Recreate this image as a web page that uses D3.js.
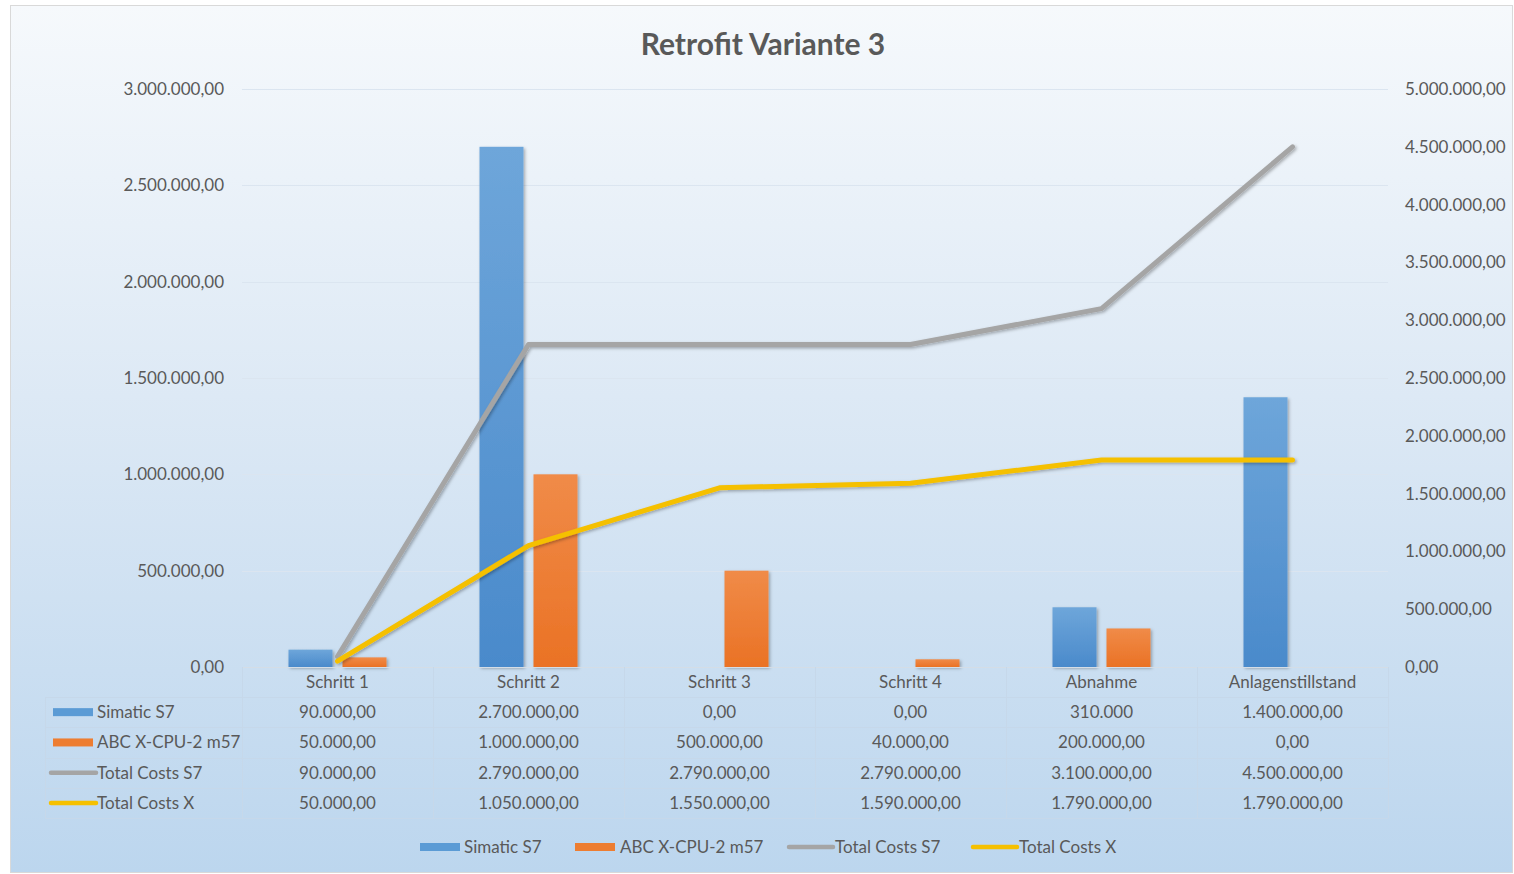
<!DOCTYPE html>
<html>
<head>
<meta charset="utf-8">
<script src="https://cdn.jsdelivr.net/npm/d3@7"></script>
<style>
  html, body { margin: 0; padding: 0; background: #ffffff; }
  svg { display: block; font-family: Lato, "Open Sans", sans-serif; }
</style>
</head>
<body>
<svg id="chart" width="1514" height="874"></svg>
<script>
// ---- DATA ----
const categories = ["Schritt 1", "Schritt 2", "Schritt 3", "Schritt 4", "Abnahme", "Anlagenstillstand"];
const simaticS7 = [90000, 2700000, 0, 0, 310000, 1400000];
const abcCpu = [50000, 1000000, 500000, 40000, 200000, 0];
const totalCostsS7 = [90000, 2790000, 2790000, 2790000, 3100000, 4500000];
const totalCostsX = [50000, 1050000, 1550000, 1590000, 1790000, 1790000];
const seriesNames = ["Simatic S7", "ABC X-CPU-2 m57", "Total Costs S7", "Total Costs X"];
const leftTicks = [0, 500000, 1000000, 1500000, 2000000, 2500000, 3000000];
const rightTicks = [0, 500000, 1000000, 1500000, 2000000, 2500000, 3000000, 3500000, 4000000, 4500000, 5000000];
// table cell texts as displayed (one cell is shown without decimals)
const tableSimatic = ["90.000,00", "2.700.000,00", "0,00", "0,00", "310.000", "1.400.000,00"];
const tableAbc = ["50.000,00", "1.000.000,00", "500.000,00", "40.000,00", "200.000,00", "0,00"];
const tableTotalS7 = ["90.000,00", "2.790.000,00", "2.790.000,00", "2.790.000,00", "3.100.000,00", "4.500.000,00"];
const tableTotalX = ["50.000,00", "1.050.000,00", "1.550.000,00", "1.590.000,00", "1.790.000,00", "1.790.000,00"];

// ---- LAYOUT ----
const W = 1514, H = 874;
const plot = { left: 242, right: 1388, top: 89, bottom: 667 };
const colors = { blue: "#5b9bd5", orange: "#ed7d31", gray: "#a5a5a5", gold: "#f5c000", text: "#595959" };
const FS = 17;

const svg = d3.select("#chart");
const defs = svg.append("defs");

const bg = defs.append("linearGradient").attr("id", "bg").attr("x1", 0).attr("y1", 0).attr("x2", 0).attr("y2", 1);
bg.append("stop").attr("offset", "0%").attr("stop-color", "#f6f9fc");
bg.append("stop").attr("offset", "45%").attr("stop-color", "#dde9f5");
bg.append("stop").attr("offset", "100%").attr("stop-color", "#bcd6ee");

const gb = defs.append("linearGradient").attr("id", "gBlue").attr("x1", 0).attr("y1", 0).attr("x2", 0).attr("y2", 1);
gb.append("stop").attr("offset", "0%").attr("stop-color", "#6ea6da");
gb.append("stop").attr("offset", "100%").attr("stop-color", "#4a8acb");
const go = defs.append("linearGradient").attr("id", "gOrange").attr("x1", 0).attr("y1", 0).attr("x2", 0).attr("y2", 1);
go.append("stop").attr("offset", "0%").attr("stop-color", "#f08b48");
go.append("stop").attr("offset", "100%").attr("stop-color", "#ea7225");

const sh = defs.append("filter").attr("id", "shadow").attr("x", "-20%").attr("y", "-20%").attr("width", "140%").attr("height", "140%");
sh.append("feDropShadow").attr("dx", 1.5).attr("dy", 1.5).attr("stdDeviation", 1.5).attr("flood-color", "#000").attr("flood-opacity", 0.3);

// background + border
svg.append("rect").attr("x", 10.5).attr("y", 5.5).attr("width", W - 12).attr("height", H - 7)
  .attr("fill", "url(#bg)").attr("stroke", "#d9d9d9").attr("stroke-width", 1);

// title
svg.append("text").attr("x", 763).attr("y", 55).attr("text-anchor", "middle")
  .attr("font-size", 30).attr("font-weight", "bold").attr("fill", colors.text).text("Retrofit Variante 3");

// scales
const x = d3.scaleBand().domain(categories).range([plot.left, plot.right]);
const yL = d3.scaleLinear().domain([0, 3000000]).range([plot.bottom, plot.top]);
const yR = d3.scaleLinear().domain([0, 5000000]).range([plot.bottom, plot.top]);
const fmt = d3.formatLocale({ decimal: ",", thousands: ".", grouping: [3], currency: ["", "€"] }).format(",.2f");

// gridlines
svg.append("g").selectAll("line").data(leftTicks.slice(1)).join("line")
  .attr("x1", plot.left).attr("x2", plot.right)
  .attr("y1", d => Math.round(yL(d)) + 0.5).attr("y2", d => Math.round(yL(d)) + 0.5)
  .attr("stroke", "#dbe5f0").attr("stroke-width", 1);

// left axis
const axL = svg.append("g").attr("transform", `translate(${plot.left - 18},0)`)
  .call(d3.axisLeft(yL).tickValues(leftTicks).tickFormat(fmt).tickSize(0).tickPadding(0));
axL.select(".domain").remove();
axL.selectAll("text").attr("font-size", FS).attr("fill", colors.text).attr("font-family", "Lato, sans-serif");

// right axis
const axR = svg.append("g").attr("transform", `translate(${plot.right + 17},0)`)
  .call(d3.axisRight(yR).tickValues(rightTicks).tickFormat(fmt).tickSize(0).tickPadding(0));
axR.select(".domain").remove();
axR.selectAll("text").attr("font-size", FS).attr("fill", colors.text).attr("font-family", "Lato, sans-serif");

// bars
const barW = 44, barOff = 27;
const bars = svg.append("g").attr("filter", "url(#shadow)");
bars.selectAll("rect.s7").data(categories).join("rect").attr("class", "s7")
  .attr("x", (d) => x(d) + x.bandwidth() / 2 - barOff - barW / 2)
  .attr("width", barW)
  .attr("y", (d, i) => yL(simaticS7[i]))
  .attr("height", (d, i) => plot.bottom - yL(simaticS7[i]))
  .attr("fill", "url(#gBlue)");
bars.selectAll("rect.abc").data(categories).join("rect").attr("class", "abc")
  .attr("x", (d) => x(d) + x.bandwidth() / 2 + barOff - barW / 2)
  .attr("width", barW)
  .attr("y", (d, i) => yL(abcCpu[i]))
  .attr("height", (d, i) => plot.bottom - yL(abcCpu[i]))
  .attr("fill", "url(#gOrange)");

// table grid
const rowH = 30.3;
const tableTop = plot.bottom;
const headerBottom = tableTop + 30;
const tableBottom = headerBottom + rowH * 4;
const tableLeft = 45;
const grid = svg.append("g").attr("stroke", "#c6d8ea").attr("stroke-width", 1).attr("fill", "none");
grid.append("line").attr("x1", plot.left).attr("x2", plot.right).attr("y1", tableTop + 0.5).attr("y2", tableTop + 0.5).attr("stroke", "#d4dde6");
for (let r = 0; r <= 4; r++) {
  const yy = Math.round(headerBottom + r * rowH) + 0.5;
  grid.append("line").attr("x1", tableLeft).attr("x2", plot.right).attr("y1", yy).attr("y2", yy);
}
const bounds = categories.map(c => x(c)).concat([plot.right]);
grid.selectAll("line.v").data(bounds).join("line").attr("class", "v")
  .attr("x1", d => Math.round(d) + 0.5).attr("x2", d => Math.round(d) + 0.5)
  .attr("y1", tableTop).attr("y2", tableBottom);
grid.append("line").attr("x1", tableLeft + 0.5).attr("x2", tableLeft + 0.5).attr("y1", headerBottom).attr("y2", tableBottom);

// header
svg.append("g").selectAll("text").data(categories).join("text")
  .attr("x", d => x(d) + x.bandwidth() / 2).attr("y", tableTop + 21)
  .attr("text-anchor", "middle").attr("font-size", FS).attr("fill", colors.text).text(d => d);

// rows
const rows = [tableSimatic, tableAbc, tableTotalS7, tableTotalX];
const keyTypes = ["rect", "rect", "line", "line"];
const keyColors = [colors.blue, colors.orange, colors.gray, colors.gold];
rows.forEach((vals, r) => {
  const cy = headerBottom + r * rowH + rowH / 2;
  svg.append("g").selectAll("text").data(vals).join("text")
    .attr("x", (d, i) => x(categories[i]) + x.bandwidth() / 2).attr("y", cy + 6)
    .attr("text-anchor", "middle").attr("font-size", FS).attr("fill", colors.text).text(d => d);
  if (keyTypes[r] === "rect") {
    svg.append("rect").attr("x", 53).attr("y", cy - 4).attr("width", 40).attr("height", 8).attr("fill", keyColors[r]);
  } else {
    svg.append("line").attr("x1", 51).attr("x2", 96).attr("y1", cy).attr("y2", cy)
      .attr("stroke", keyColors[r]).attr("stroke-width", 4.5).attr("stroke-linecap", "round");
  }
  svg.append("text").attr("x", 97).attr("y", cy + 6).attr("font-size", FS).attr("fill", colors.text).text(seriesNames[r]);
});

// lines (secondary axis)
const lineGen = d3.line().x((d, i) => x(categories[i]) + x.bandwidth() / 2).y(d => yR(d));
const lines = svg.append("g").attr("filter", "url(#shadow)");
lines.append("path").datum(totalCostsS7).attr("d", lineGen).attr("fill", "none")
  .attr("stroke", colors.gray).attr("stroke-width", 5).attr("stroke-linecap", "round").attr("stroke-linejoin", "round");
lines.append("path").datum(totalCostsX).attr("d", lineGen).attr("fill", "none")
  .attr("stroke", colors.gold).attr("stroke-width", 5).attr("stroke-linecap", "round").attr("stroke-linejoin", "round");

// bottom legend
const legend = [
  { name: seriesNames[0], type: "rect", color: colors.blue, kx: 420, tx: 464 },
  { name: seriesNames[1], type: "rect", color: colors.orange, kx: 575, tx: 620 },
  { name: seriesNames[2], type: "line", color: colors.gray, kx: 789, tx: 835 },
  { name: seriesNames[3], type: "line", color: colors.gold, kx: 973, tx: 1019 }
];
const ly = 847;
legend.forEach(l => {
  if (l.type === "rect") {
    svg.append("rect").attr("x", l.kx).attr("y", ly - 4).attr("width", 40).attr("height", 8).attr("fill", l.color);
  } else {
    svg.append("line").attr("x1", l.kx).attr("x2", l.kx + 44).attr("y1", ly).attr("y2", ly)
      .attr("stroke", l.color).attr("stroke-width", 4.5).attr("stroke-linecap", "round");
  }
  svg.append("text").attr("x", l.tx).attr("y", ly + 6).attr("font-size", FS).attr("fill", colors.text).text(l.name);
});
</script>
</body>
</html>
